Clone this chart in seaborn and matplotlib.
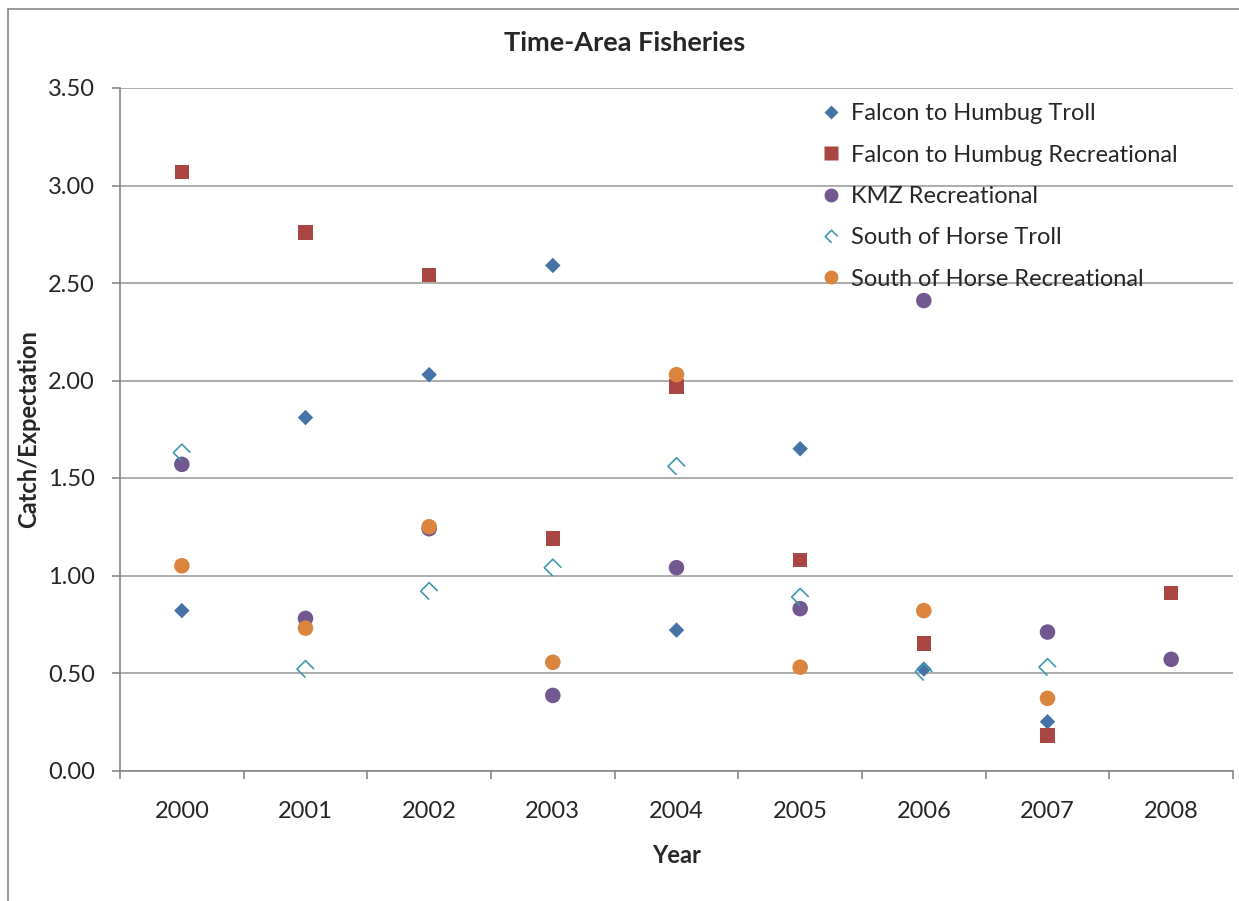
import numpy as np
import pandas as pd
import matplotlib
matplotlib.use("Agg")
import matplotlib.pyplot as plt
from matplotlib.path import Path
from matplotlib.lines import Line2D
import seaborn as sns

years = ["2000", "2001", "2002", "2003", "2004", "2005", "2006", "2007", "2008"]
falcon_troll = [0.82, 1.81, 2.03, 2.59, 0.72, 1.65, 0.52, 0.25, np.nan]
falcon_rec = [3.07, 2.76, 2.54, 1.19, 1.97, 1.08, 0.65, 0.18, 0.91]
kmz_rec = [1.57, 0.78, 1.24, 0.385, 1.04, 0.83, 2.41, 0.71, 0.57]
south_troll = [1.63, 0.52, 0.92, 1.04, 1.56, 0.89, 0.505, 0.53, np.nan]
south_rec = [1.05, 0.73, 1.25, 0.555, 2.03, 0.53, 0.82, 0.37, np.nan]

series_names = ["Falcon to Humbug Troll", "Falcon to Humbug Recreational",
                "KMZ Recreational", "South of Horse Troll", "South of Horse Recreational"]
series_values = [falcon_troll, falcon_rec, kmz_rec, south_troll, south_rec]

sns.set_theme(style="white")
plt.rcParams['font.family'] = ['Lato', 'DejaVu Sans']

fig = plt.figure(figsize=(12.39, 9.01), dpi=100)
W, H = 1239, 901
ax = fig.add_axes([120 / W, 1 - 770.5 / H, (1233 - 120) / W, (770.5 - 88) / H])

open_diamond = Path([(1, 0), (0, 1), (-1, 0), (0, -1)],
                    [Path.MOVETO, Path.LINETO, Path.LINETO, Path.LINETO])

styles = [
    dict(marker="D", s=62, color="#4572A7", edgecolor="none"),
    dict(marker="s", s=110, color="#AA4643", edgecolor="none"),
    dict(marker="o", s=125, color="#71588F", edgecolor="none"),
    dict(marker=open_diamond, s=150, facecolor="none", edgecolor="#4198AF", linewidth=1.2),
    dict(marker="o", s=125, color="#DB843D", edgecolor="none"),
]

xpos = np.arange(len(years))
for name, vals, st in zip(series_names, series_values, styles):
    df = pd.DataFrame({"x": xpos, "y": vals}).dropna()
    sns.scatterplot(data=df, x="x", y="y", ax=ax, label=name, legend=False, **st)

FS = 17
ax.set_xlim(-0.5, len(years) - 0.5)
ax.set_ylim(0, 3.5)
yt = np.arange(0, 3.51, 0.5)
ax.set_yticks(yt)
ax.set_yticklabels([f"{v:.2f}" for v in yt], fontsize=FS)
ax.yaxis.grid(True, color="#A6A6A6", linewidth=1.3)
ax.set_axisbelow(True)

ax.set_xticks(np.arange(-0.5, len(years)), minor=False)
ax.set_xticklabels([""] * (len(years) + 1))
ax.set_xticks(xpos, minor=True)
ax.set_xticklabels(years, minor=True, fontsize=FS)
ax.tick_params(axis="x", which="major", direction="out", length=6, color="#878787", width=1.2, bottom=True)
ax.tick_params(axis="x", which="minor", length=0, pad=22, bottom=True)
ax.tick_params(axis="y", direction="out", length=6, color="#878787", width=1.2, left=True, pad=12)

for sp in ["top", "right"]:
    ax.spines[sp].set_visible(False)
for sp in ["left", "bottom"]:
    ax.spines[sp].set_color("#878787")
    ax.spines[sp].set_linewidth(1.2)

ax.set_xlabel("Year", fontsize=FS, fontweight="bold", labelpad=16)
ax.set_ylabel("Catch/Expectation", fontsize=FS, fontweight="bold", labelpad=6)
fig.text(625 / W, 1 - 43 / H, "Time-Area Fisheries",
         ha="center", va="center", fontsize=19.5, fontweight="bold")

handles = []
for name, st in zip(series_names, styles):
    if st["marker"] is open_diamond:
        h = Line2D([], [], linestyle="none", marker=open_diamond, markersize=9,
                   markerfacecolor="none", markeredgecolor="#4198AF", markeredgewidth=1.2)
    else:
        ms = {"D": 7.5, "s": 9.5, "o": 10}[st["marker"]]
        h = Line2D([], [], linestyle="none", marker=st["marker"], markersize=ms,
                   markerfacecolor=st["color"], markeredgecolor="none")
    handles.append(h)
leg = ax.legend(handles, series_names, loc="upper left", bbox_to_anchor=(813 / W, 1 - 94 / H),
                bbox_transform=fig.transFigure, frameon=False, fontsize=FS,
                labelspacing=0.86, handlelength=0.75, handletextpad=0.45, borderaxespad=0)

# outer chart border
fig.add_artist(Line2D([8 / W, 1.0], [1 - 9 / H, 1 - 9 / H], transform=fig.transFigure,
                      color="#878787", linewidth=1.2))
fig.add_artist(Line2D([8 / W, 8 / W], [0, 1 - 9 / H], transform=fig.transFigure,
                      color="#878787", linewidth=1.2))

fig.savefig("out.png", dpi=100, facecolor="white")
